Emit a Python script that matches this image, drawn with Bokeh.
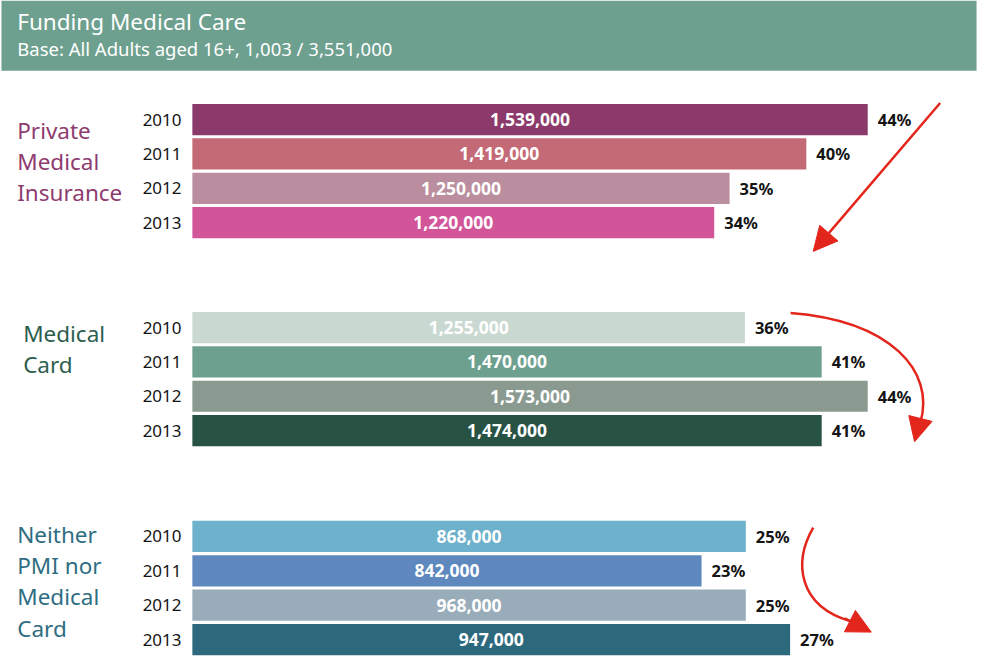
from bokeh.plotting import figure
from bokeh.models import Range1d, Arrow, NormalHead, ColumnDataSource
from bokeh.core.properties import value
from bokeh.embed import file_html
from bokeh.resources import INLINE

# ---------------- data ----------------
title = "Funding Medical Care"
subtitle = "Base: All Adults aged 16+, 1,003 / 3,551,000"
years = ["2010", "2011", "2012", "2013"]
group_names = ["Private Medical Insurance", "Medical Card", "Neither PMI nor Medical Card"]
group_label_lines = [["Private", "Medical", "Insurance"],
                     ["Medical", "Card"],
                     ["Neither", "PMI nor", "Medical", "Card"]]

pmi_pct = [44, 40, 35, 34]
pmi_count = [1539000, 1419000, 1250000, 1220000]
card_pct = [36, 41, 44, 41]
card_count = [1255000, 1470000, 1573000, 1474000]
neither_pct = [25, 23, 25, 27]
neither_count = [868000, 842000, 968000, 947000]

# ---------------- style ----------------
FONT = value("Noto Sans")
header_color = "#6DA08F"
bar_colors = [["#8B3A6B", "#C46A76", "#BA8E9E", "#D2559A"],
              ["#CAD8D2", "#6DA08F", "#8A9A91", "#275244"],
              ["#6DB1CC", "#5E88BE", "#99ACB9", "#2C697D"]]
label_colors = ["#8E3B6F", "#2D5E4E", "#2F6E82"]
label_x = [17, 23, 17]
label_top = [133, 341, 547]
label_pitch = 32
group_first_bar = [122, 335, 549]
bar_pitch = 35.2
bar_height = 32
arrow_red = "#E3261C"

W, H = 979, 656
REF_W, REF_H = 995, 672
BAR_X0 = 195          # left edge of bars (reference px)
SCALE_MAIN = 15.6     # px per percent, groups 1 and 2
SCALE_NEITHER = 22.5  # px per percent, group 3

p = figure(width=W, height=H, x_range=Range1d(0, REF_W), y_range=Range1d(REF_H, 0),
           output_backend="svg", toolbar_location=None, min_border=0,
           x_axis_location=None, y_axis_location=None)
p.grid.visible = False
p.outline_line_color = None
p.background_fill_color = "white"
p.border_fill_color = "white"

p.extra_x_ranges = {
    "pct": Range1d(-BAR_X0 / SCALE_MAIN, (REF_W - BAR_X0) / SCALE_MAIN),
    "pct3": Range1d(-BAR_X0 / SCALE_NEITHER, (REF_W - BAR_X0) / SCALE_NEITHER),
}

# header band
p.quad(left=[1], right=[992], top=[0], bottom=[72], fill_color=header_color, line_color=None)
p.text(x=[17], y=[21], text=[title], text_font=FONT, text_font_size="22.5px",
       text_color="white", text_baseline="middle", text_align="left")
p.text(x=[17], y=[49], text=[subtitle], text_font=FONT, text_font_size="18.5px",
       text_color="white", text_baseline="middle", text_align="left")

groups = [(pmi_pct, pmi_count, "pct"), (card_pct, card_count, "pct"),
          (neither_pct, neither_count, "pct3")]

for g, (pcts, counts, rname) in enumerate(groups):
    ys = [group_first_bar[g] + j * bar_pitch for j in range(len(years))]
    src = ColumnDataSource(dict(
        y=ys, pct=pcts, mid=[v / 2 for v in pcts],
        count=[f"{c:,}" for c in counts],
        pct_label=[f"{v}%" for v in pcts],
        color=bar_colors[g], year=years,
    ))
    p.hbar(y="y", left=0, right="pct", height=bar_height, fill_color="color",
           line_color=None, source=src, x_range_name=rname)
    p.text(x="mid", y="y", text="count", source=src, x_range_name=rname,
           text_font=FONT, text_font_size="17.5px", text_font_style="bold",
           text_color="white", text_align="center", text_baseline="middle")
    p.text(x="pct", y="y", text="pct_label", source=src, x_range_name=rname,
           x_offset=10, text_font=FONT, text_font_size="16.5px", text_font_style="bold",
           text_color="#141414", text_align="left", text_baseline="middle")
    p.text(x=[184] * len(years), y=ys, text=years, text_font=FONT,
           text_font_size="17px", text_color="#141414", text_align="right",
           text_baseline="middle")
    lines = group_label_lines[g]
    p.text(x=[label_x[g]] * len(lines),
           y=[label_top[g] + i * label_pitch for i in range(len(lines))],
           text=lines, text_font=FONT, text_font_size="22.5px",
           text_color=label_colors[g], text_align="left", text_baseline="middle")

# trend arrows (decorations)
head = lambda: NormalHead(size=24, fill_color=arrow_red, line_color=arrow_red)
p.add_layout(Arrow(end=head(), x_start=955, y_start=105, x_end=826, y_end=257,
                   line_color=arrow_red, line_width=2.5))

p.bezier(x0=[803], y0=[320], x1=[935], y1=[432], cx0=[905], cy0=[328],
         cx1=[950], cy1=[380], line_color=arrow_red, line_width=2.5)
p.add_layout(Arrow(end=head(), x_start=935, y_start=428, x_end=929, y_end=452,
                   line_color=arrow_red, line_width=2.5))

p.bezier(x0=[826], y0=[540], x1=[864], y1=[636], cx0=[806], cy0=[575],
         cx1=[810], cy1=[620], line_color=arrow_red, line_width=2.5)
p.add_layout(Arrow(end=head(), x_start=858, y_start=633, x_end=885, y_end=647,
                   line_color=arrow_red, line_width=2.5))

open("out.html", "w").write(file_html(p, INLINE))
